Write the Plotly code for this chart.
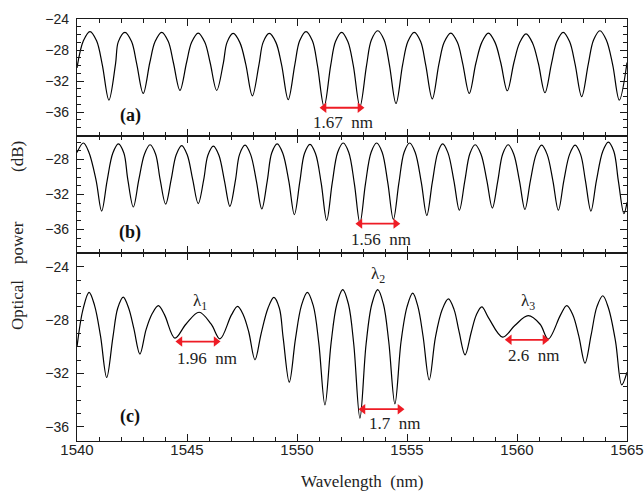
import plotly.graph_objects as go
from plotly.subplots import make_subplots

# ---------------- data ----------------
wl_a = [1540.00, 1540.29, 1540.59, 1540.89,
        1541.15, 1541.45, 1541.75, 1541.88, 1542.18, 1542.48,
        1542.71, 1543.01, 1543.31, 1543.55, 1543.85, 1544.15,
        1544.38, 1544.68, 1544.98, 1545.21, 1545.51, 1545.81,
        1546.05, 1546.35, 1546.65, 1546.82, 1547.10, 1547.40,
        1547.67, 1547.97, 1548.27, 1548.46, 1548.74, 1549.04,
        1549.30, 1549.60, 1549.90, 1550.12, 1550.41, 1550.70,
        1550.93, 1551.23, 1551.53, 1551.75, 1552.03, 1552.31,
        1552.56, 1552.86, 1553.16, 1553.38, 1553.67, 1553.96,
        1554.20, 1554.50, 1554.80, 1555.04, 1555.33, 1555.62,
        1555.85, 1556.15, 1556.45, 1556.69, 1556.99, 1557.29,
        1557.53, 1557.83, 1558.13, 1558.40, 1558.70, 1559.00,
        1559.26, 1559.56, 1559.86, 1560.11, 1560.41, 1560.71,
        1560.97, 1561.27, 1561.57, 1561.81, 1562.10, 1562.39,
        1562.64, 1562.94, 1563.24, 1563.48, 1563.77, 1564.06,
        1564.35, 1564.65, 1565.00]
pw_a = [-30.3, -26.8, -25.6, -26.8,
        -29.9, -34.45, -29.8, -26.9, -25.7, -26.9,
        -29.7, -33.6, -29.6, -26.9, -25.7, -26.9,
        -29.6, -33.2, -29.6, -27.0, -25.8, -27.0,
        -29.6, -33.2, -29.7, -27.0, -25.85, -27.0,
        -29.8, -33.9, -29.9, -27.0, -25.85, -27.0,
        -29.9, -34.4, -29.9, -26.8, -25.6, -26.8,
        -30.0, -35.3, -30.0, -26.9, -25.7, -26.9,
        -30.0, -35.3, -30.0, -26.7, -25.5, -26.7,
        -29.9, -34.9, -29.9, -26.9, -25.7, -26.9,
        -29.9, -34.3, -29.8, -27.0, -25.8, -27.0,
        -29.7, -33.6, -29.7, -27.0, -25.8, -27.0,
        -29.6, -33.25, -29.6, -27.1, -25.9, -27.1,
        -29.7, -33.5, -29.7, -26.9, -25.7, -26.9,
        -29.8, -34.0, -29.8, -26.7, -25.5, -26.7,
        -29.9, -34.45, -29.6]

wl_b = [1540.00, 1540.29, 1540.54,
        1540.87, 1541.12, 1541.37, 1541.63, 1541.88, 1542.13,
        1542.31, 1542.56, 1542.81, 1543.07, 1543.32, 1543.57,
        1543.78, 1544.03, 1544.28, 1544.51, 1544.76, 1545.01,
        1545.26, 1545.51, 1545.76, 1545.95, 1546.20, 1546.45,
        1546.70, 1546.95, 1547.20, 1547.39, 1547.64, 1547.89,
        1548.15, 1548.40, 1548.65, 1548.85, 1549.10, 1549.35,
        1549.63, 1549.88, 1550.13, 1550.34, 1550.59, 1550.84,
        1551.10, 1551.35, 1551.60, 1551.85, 1552.10, 1552.35,
        1552.61, 1552.86, 1553.11, 1553.37, 1553.62, 1553.87,
        1554.13, 1554.38, 1554.63, 1554.87, 1555.12, 1555.37,
        1555.65, 1555.90, 1556.15, 1556.40, 1556.62, 1556.86,
        1557.13, 1557.38, 1557.63, 1557.86, 1558.10, 1558.36,
        1558.63, 1558.88, 1559.13, 1559.35, 1559.60, 1559.85,
        1560.11, 1560.36, 1560.61, 1560.87, 1561.12, 1561.37,
        1561.63, 1561.88, 1562.13, 1562.39, 1562.64, 1562.89,
        1563.11, 1563.36, 1563.61, 1563.90, 1564.15, 1564.40,
        1564.61, 1564.86, 1565.00]
pw_b = [-27.2, -26.1, -27.15,
        -30.4, -33.9, -30.4, -27.25, -26.2, -27.25,
        -30.3, -33.43, -30.3, -27.35, -26.3, -27.35,
        -30.3, -33.1, -30.3, -27.45, -26.4, -27.45,
        -30.3, -33.04, -30.3, -27.5, -26.45, -27.5,
        -30.4, -33.35, -30.4, -27.4, -26.35, -27.4,
        -30.4, -33.66, -30.4, -27.25, -26.2, -27.25,
        -30.5, -34.3, -30.5, -27.3, -26.25, -27.3,
        -30.7, -34.96, -30.7, -27.15, -26.1, -27.15,
        -30.8, -35.27, -30.8, -27.15, -26.1, -27.15,
        -30.7, -34.85, -30.7, -27.15, -26.1, -27.15,
        -30.6, -34.4, -30.6, -27.2, -26.2, -27.2,
        -30.4, -33.8, -30.4, -27.3, -26.3, -27.35,
        -30.4, -33.55, -30.4, -27.35, -26.3, -27.35,
        -30.4, -33.7, -30.4, -27.4, -26.35, -27.4,
        -30.4, -33.8, -30.4, -27.4, -26.35, -27.4,
        -30.4, -33.9, -30.4, -27.05, -26.0, -27.05,
        -30.5, -34.2, -32.9]

wl_c = [1540.00, 1540.27, 1540.55, 1540.80,
        1541.07, 1541.35, 1541.63, 1541.85, 1542.10, 1542.35,
        1542.58, 1542.86, 1543.14, 1543.42, 1543.70, 1543.98,
        1544.45, 1544.95, 1545.55, 1546.10, 1546.50,
        1547.02, 1547.30, 1547.56,
        1547.81, 1548.09, 1548.37, 1548.68, 1548.95, 1549.20,
        1549.37, 1549.65, 1549.93, 1550.20, 1550.47, 1550.74,
        1550.99, 1551.27, 1551.55, 1551.81, 1552.08, 1552.34,
        1552.58, 1552.86, 1553.14, 1553.40, 1553.67, 1553.93,
        1554.17, 1554.45, 1554.73, 1555.00, 1555.26, 1555.50,
        1555.73, 1556.01, 1556.29, 1556.60, 1556.88, 1557.14,
        1557.36, 1557.64, 1557.92, 1558.15, 1558.40, 1558.70,
        1559.35, 1559.90, 1560.51, 1561.05, 1561.42,
        1561.98, 1562.26, 1562.54,
        1562.81, 1563.09, 1563.37, 1563.63, 1563.90, 1564.16,
        1564.48, 1564.76, 1565.00]
pw_c = [-30.0, -27.2, -25.9, -26.9,
        -29.2, -32.3, -29.3, -27.1, -26.26, -27.1,
        -28.6, -30.54, -28.7, -27.5, -26.9, -27.6,
        -29.34, -28.3, -27.4, -28.3, -29.4,
        -27.6, -26.96, -27.6,
        -28.9, -30.97, -29.0, -27.1, -26.28, -27.1,
        -29.3, -32.65, -29.4, -26.9, -25.9, -26.9,
        -29.7, -34.36, -29.7, -26.8, -25.7, -26.8,
        -29.8, -35.36, -29.8, -26.8, -25.7, -26.8,
        -29.6, -34.28, -29.6, -27.0, -25.96, -27.0,
        -29.2, -32.48, -29.3, -27.2, -26.4, -27.2,
        -28.8, -30.6, -28.9, -27.6, -27.0, -27.8,
        -29.27, -28.4, -27.66, -28.3, -29.41,
        -27.6, -26.9, -27.6,
        -29.2, -31.22, -29.1, -27.0, -26.16, -27.1,
        -29.6, -32.85, -31.9]

x_ticks = [1540, 1545, 1550, 1555, 1560, 1565]
y_ticks = [-36, -32, -28, -24]

# spacing markers: (start, end, level, label, label_x, label_y)
marks_a = [(1551.23, 1552.86, -35.45, "1.67  nm", 1552.07, -37.4)]
marks_b = [(1552.86, 1554.49, -35.34, "1.56  nm", 1553.80, -37.2)]
marks_c = [(1544.68, 1546.32, -29.60, "1.96  nm", 1545.90, -30.9),
           (1553.00, 1554.68, -34.68, "1.7  nm", 1554.41, -35.73),
           (1559.65, 1561.27, -29.47, "2.6  nm", 1560.74, -30.67)]
lambda_labels = [("λ<sub>1</sub>", 1545.6, -26.6),
                 ("λ<sub>2</sub>", 1553.7, -24.6),
                 ("λ<sub>3</sub>", 1560.5, -26.6)]
panel_labels = [("(a)", 1542.45, -36.5), ("(b)", 1542.40, -36.38), ("(c)", 1542.40, -35.2)]
# y-axis title words and their vertical paper positions
ytitle_words = [("Optical", 0.3223), ("power", 0.4716), ("(dB)", 0.6754)]

# ---------------- figure ----------------
fig = make_subplots(rows=3, cols=1, shared_xaxes=True, vertical_spacing=0)

AX = "#1a1a1a"
SERIF = "Liberation Serif, Times New Roman, serif"
RED = "#ee1c25"

for i, (xs, ys) in enumerate([(wl_a, pw_a), (wl_b, pw_b), (wl_c, pw_c)], start=1):
    fig.add_trace(go.Scatter(x=xs, y=ys, mode="lines",
                             line=dict(color="black", width=1.2, shape="spline", smoothing=1.0),
                             showlegend=False, hoverinfo="skip"), row=i, col=1)

annotations = []
for i, marks in enumerate([marks_a, marks_b, marks_c]):
    xr = "x" if i == 0 else f"x{i+1}"
    yr = "y" if i == 0 else f"y{i+1}"
    for (x0, x1, yv, txt, tx, ty) in marks:
        fig.add_trace(go.Scatter(x=[x0, x1], y=[yv, yv], mode="lines+markers",
                                 line=dict(color=RED, width=1.8),
                                 marker=dict(symbol=["triangle-left", "triangle-right"], size=9, color=RED),
                                 showlegend=False, hoverinfo="skip"), row=i + 1, col=1)
        annotations.append(dict(x=tx, y=ty, xref=xr, yref=yr, text=txt, showarrow=False,
                                xanchor="center", yanchor="middle",
                                font=dict(family=SERIF, size=17, color="#222")))
    lab, lx, ly = panel_labels[i]
    annotations.append(dict(x=lx, y=ly, xref=xr, yref=yr, text=f"<b>{lab}</b>", showarrow=False,
                            xanchor="center", yanchor="middle",
                            font=dict(family=SERIF, size=18, color="#111")))

for (txt, lx, ly) in lambda_labels:
    annotations.append(dict(x=lx, y=ly, xref="x3", yref="y3", text=txt, showarrow=False,
                            xanchor="center", yanchor="middle",
                            font=dict(family=SERIF, size=17, color="#222")))

for (word, py) in ytitle_words:
    annotations.append(dict(x=-0.1073, y=py, xref="paper", yref="paper", textangle=-90,
                            text=word, showarrow=False, xanchor="center", yanchor="middle",
                            font=dict(family=SERIF, size=17, color="#222")))
annotations.append(dict(x=0.519, y=-0.097, xref="paper", yref="paper",
                        text="Wavelength  (nm)", showarrow=False, xanchor="center", yanchor="middle",
                        font=dict(family=SERIF, size=17, color="#222")))

domains = [[0.7227, 1.0], [0.4455, 0.7227], [0.0, 0.4455]]
yranges = [[-39.1, -23.98], [-38.7, -25.3], [-37.07, -22.95]]

for i in range(3):
    xn = "xaxis" if i == 0 else f"xaxis{i+1}"
    yn = "yaxis" if i == 0 else f"yaxis{i+1}"
    fig.layout[xn].update(range=[1540, 1565], tickvals=x_ticks, automargin=False,
                          showline=True, linecolor=AX, linewidth=1.3, mirror="ticks",
                          ticks="inside", ticklen=7, tickwidth=1.3, tickcolor=AX,
                          minor=dict(dtick=1, tick0=1540, ticks="inside", ticklen=4, tickwidth=1.1, tickcolor=AX),
                          showgrid=False, zeroline=False,
                          tickfont=dict(family="Liberation Sans, Arial", size=15, color="#222"),
                          ticklabelstandoff=-5,
                          showticklabels=(i == 2))
    fig.layout[yn].update(domain=domains[i], range=yranges[i], tickvals=y_ticks, automargin=False,
                          showline=True, linecolor=AX, linewidth=1.3, mirror="ticks",
                          ticks="inside", ticklen=7, tickwidth=1.3, tickcolor=AX,
                          minor=dict(dtick=1, tick0=-24, ticks="inside", ticklen=4, tickwidth=1.1, tickcolor=AX),
                          showgrid=False, zeroline=False,
                          tickfont=dict(family="Liberation Sans, Arial", size=14, color="#222"),
                          ticklabelstandoff=4)

fig.update_layout(width=644, height=495, margin=dict(l=77, r=17, t=19, b=54),
                  paper_bgcolor="white", plot_bgcolor="white",
                  annotations=annotations, showlegend=False)

fig.write_html("out.html", config={"displayModeBar": False},
               post_script="document.body.style.margin='0';")
